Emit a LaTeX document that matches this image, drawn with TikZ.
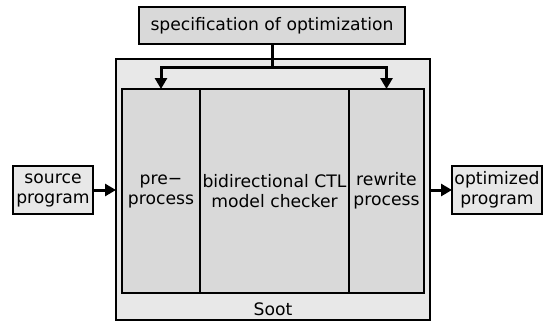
\documentclass[tikz,border=0pt]{standalone}
\usepackage{fontspec}
\setmainfont{DejaVu Sans}
\usetikzlibrary{arrows.meta}
\definecolor{boxdark}{HTML}{D9D9D9}
\definecolor{boxlight}{HTML}{E8E8E8}
\tikzset{
  blk/.style={draw=black, line width=2.4pt, rectangle, inner sep=0pt, outer sep=0pt,
    font=\fontsize{17.2}{20}\selectfont, align=center},
  flow/.style={line width=3pt, -{Triangle[length=11pt,width=12pt]}},
}
\begin{document}
\begin{tikzpicture}[x=1pt,y=-1pt]
\useasboundingbox (0,0) rectangle (547,322);
\node[blk, fill=boxdark, minimum width=266pt, minimum height=37pt] (spec) at (272,25.5) {specification of optimization};
\node[blk, fill=boxlight, minimum width=314pt, minimum height=261pt] (soot) at (273,189.5) {};
\node[blk, fill=boxdark, minimum width=78pt, minimum height=204pt] (pre) at (161,191) {pre−\\process};
\node[blk, fill=boxdark, minimum width=149pt, minimum height=204pt] (mc) at (274.5,191) {bidirectional CTL\\model checker};
\node[blk, fill=boxdark, minimum width=75pt, minimum height=204pt] (rew) at (386.5,191) {rewrite\\process};
\node[font=\fontsize{17.2}{20}\selectfont, inner sep=0pt] (sootlbl) at (273,309) {Soot};
\node[blk, fill=boxlight, minimum width=80pt, minimum height=48pt] (src) at (53,190) {source\\program};
\node[blk, fill=boxlight, minimum width=90pt, minimum height=48pt] (opt) at (497,190) {optimized\\program};
\coordinate (split) at (272,67);
\draw[line width=3pt] (spec.south) -- (split);
\draw[flow] (split) -| (pre.north);
\draw[flow] (split) -| (rew.north);
\draw[flow] (src.east) -- (soot.west |- src.east);
\draw[flow] (soot.east |- opt.west) -- (opt.west);
\end{tikzpicture}
\end{document}
